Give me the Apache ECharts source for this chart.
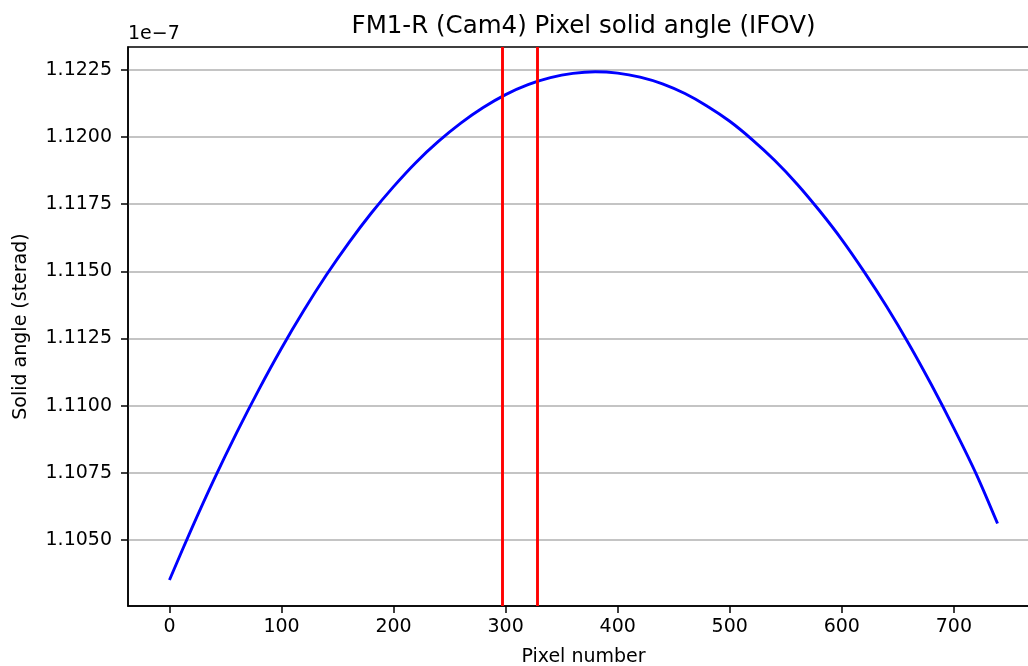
<!DOCTYPE html>
<html>
<head>
<meta charset="utf-8">
<script src="https://cdn.jsdelivr.net/npm/echarts@6/dist/echarts.min.js"></script>
<style>
  html, body { margin: 0; padding: 0; background: #fff; }
  #chart { width: 1028px; height: 666px; }
</style>
</head>
<body>
<div id="chart"></div>
<script>
// pixel index
const pixels = [0, 20, 40, 60, 80, 100, 120, 140, 160, 180, 200, 220, 240, 260, 280, 300,
  320, 340, 360, 380, 400, 420, 440, 460, 480, 500, 520, 540, 560, 580, 600, 620, 640,
  660, 680, 700, 720, 739];
// solid angle, in units of 1e-7 sr
const solidAngle = [1.10352, 1.10545, 1.10728, 1.10900, 1.11062, 1.11214, 1.11355, 1.11486,
  1.11606, 1.11716, 1.11815, 1.11905, 1.11983, 1.12051, 1.12109, 1.12157, 1.12194, 1.12220,
  1.12236, 1.12242, 1.12237, 1.12222, 1.12197, 1.12161, 1.12114, 1.12058, 1.11990, 1.11913,
  1.11825, 1.11726, 1.11618, 1.11498, 1.11369, 1.11229, 1.11078, 1.10917, 1.10746, 1.10562];
// red vertical markers
const markers = [297, 328];
const xTicks = [0, 100, 200, 300, 400, 500, 600, 700];
const yTicks = [1.1050, 1.1075, 1.1100, 1.1125, 1.1150, 1.1175, 1.1200, 1.1225];

const font = "DejaVu Sans";
const chart = echarts.init(document.getElementById("chart"), null, { renderer: "canvas" });

chart.setOption({
  animation: false,
  backgroundColor: "#fff",
  textStyle: { fontFamily: font },
  grid: {
    left: 128, top: 47, right: -11, bottom: 60,
    outerBoundsMode: "none", containLabel: false,
    show: true, borderColor: "#000", borderWidth: 1.5, backgroundColor: "transparent"
  },
  graphic: [
    {
      type: "text", x: 583.5, y: 27,
      style: { text: "FM1-R (Cam4) Pixel solid angle (IFOV)", fontFamily: font, fontSize: 24.5,
        fill: "#000", textAlign: "center", textVerticalAlign: "middle" }
    },
    {
      type: "text", x: 128, y: 34,
      style: { text: "1e\u22127", fontFamily: font, fontSize: 19, fill: "#000",
        textAlign: "left", textVerticalAlign: "middle" }
    }
  ],
  xAxis: {
    type: "value", min: -37, max: 776,
    name: "Pixel number", nameLocation: "middle", nameGap: 42,
    nameTextStyle: { fontFamily: font, fontSize: 19, color: "#000" },
    axisLine: { show: true, onZero: false, lineStyle: { color: "#000", width: 1.5 } },
    axisTick: { show: true, length: 7, lineStyle: { color: "#000", width: 1.5 }, customValues: xTicks },
    axisLabel: { margin: 12, fontFamily: font, fontSize: 19, color: "#000", customValues: xTicks },
    splitLine: { show: false }
  },
  yAxis: {
    type: "value", min: 1.102552, max: 1.123342,
    name: "Solid angle (sterad)", nameLocation: "middle", nameGap: 97, nameRotate: 90,
    nameTextStyle: { fontFamily: font, fontSize: 19, color: "#000" },
    axisLine: { show: true, onZero: false, lineStyle: { color: "#000", width: 1.5 } },
    axisTick: { show: true, length: 7, lineStyle: { color: "#000", width: 1.5 }, customValues: yTicks },
    axisLabel: { margin: 16, fontFamily: font, fontSize: 19, color: "#000", customValues: yTicks,
      formatter: v => v.toFixed(4) },
    splitLine: { show: true, lineStyle: { color: "#b0b0b0", width: 1.5 } }
  },
  series: [
    {
      type: "line",
      data: pixels.map((p, i) => [p, solidAngle[i]]),
      smooth: 0.3, symbol: "none",
      lineStyle: { color: "#0000ff", width: 2.9 },
      z: 3
    },
    {
      type: "line", data: [], symbol: "none",
      markLine: {
        silent: true, symbol: "none", label: { show: false }, animation: false,
        lineStyle: { color: "#ff0000", width: 2.9, type: "solid" },
        data: markers.map(m => ({ xAxis: m }))
      },
      z: 4
    }
  ]
});
</script>
</body>
</html>
